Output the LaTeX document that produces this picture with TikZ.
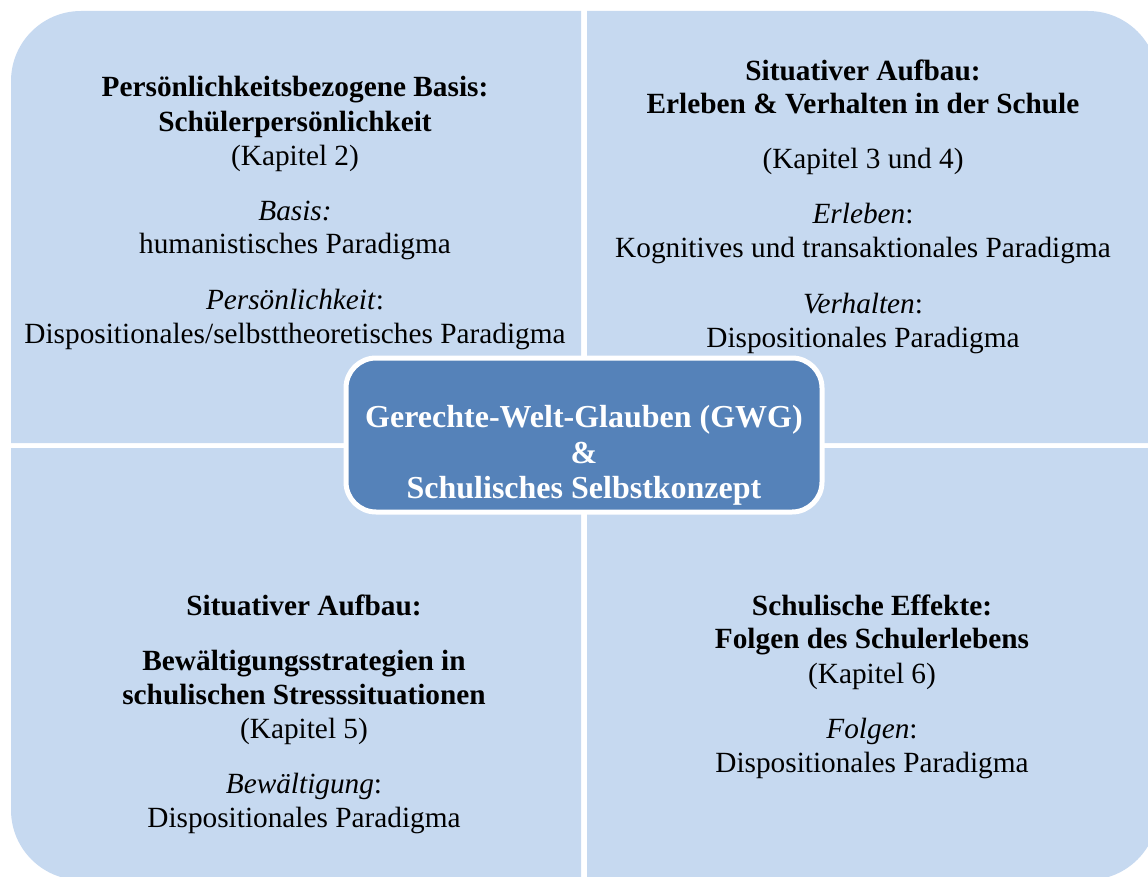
\documentclass[tikz,border=0pt]{standalone}
\usepackage{fontspec}
\setmainfont{Liberation Serif}
\definecolor{quad}{RGB}{198,217,240}
\definecolor{core}{RGB}{85,130,185}
\tikzset{
  quadfill/.style={fill=quad, draw=none},
  txt/.style={anchor=base, inner sep=0pt, font=\fontsize{29.3}{34}\selectfont},
  btxt/.style={anchor=base, inner sep=0pt, font=\fontsize{29.3}{34}\selectfont\bfseries},
  ctxt/.style={anchor=base, inner sep=0pt, text=white, font=\fontsize{32}{36}\selectfont\bfseries},
  corebox/.style={draw=white, line width=5pt, fill=core, rounded corners=30pt,
    minimum width=476pt, minimum height=154pt, inner sep=0pt},
}
\begin{document}
\begin{tikzpicture}[x=1pt,y=-1pt]
\useasboundingbox (0,0) rectangle (1148,877);
\clip (0,0) rectangle (1148,877);
% quadrants
\path[quadfill] (11,443) -- (11,81) .. controls (11,42.34) and (42.34,11) .. (81,11) -- (581,11) -- (581,443) -- cycle;
\path[quadfill] (587,443) -- (587,11) -- (1088,11) .. controls (1126.66,11) and (1158,42.34) .. (1158,81) -- (1158,443) -- cycle;
\path[quadfill] (11,448) -- (581,448) -- (581,880) -- (81,880) .. controls (42.34,880) and (11,848.66) .. (11,810) -- cycle;
\path[quadfill] (587,448) -- (1158,448) -- (1158,810) .. controls (1158,848.66) and (1126.66,880) .. (1088,880) -- (587,880) -- cycle;
% top left
\node[btxt] (tl1) at (295,97) {Persönlichkeitsbezogene Basis:};
\node[btxt] (tl2) at (295,132) {Schülerpersönlichkeit};
\node[txt] (tl3) at (295,166) {(Kapitel 2)};
\node[txt] (tl4) at (295,221) {\textit{Basis:}};
\node[txt] (tl5) at (295,254) {humanistisches Paradigma};
\node[txt] (tl6) at (295,309) {\textit{Persönlichkeit}:};
\node[txt] (tl7) at (295,343) {Dispositionales/selbsttheoretisches Paradigma};
% top right
\node[btxt] (tr1) at (863,81) {Situativer Aufbau:};
\node[btxt] (tr2) at (863,114) {Erleben \& Verhalten in der Schule};
\node[txt] (tr3) at (863,169) {(Kapitel 3 und 4)};
\node[txt] (tr4) at (863,224) {\textit{Erleben}:};
\node[txt] (tr5) at (863,258) {Kognitives und transaktionales Paradigma};
\node[txt] (tr6) at (863,313) {\textit{Verhalten}:};
\node[txt] (tr7) at (863,347) {Dispositionales Paradigma};
% bottom left
\node[btxt] (bl1) at (304,615) {Situativer Aufbau:};
\node[btxt] (bl2) at (304,670) {Bewältigungsstrategien in};
\node[btxt] (bl3) at (304,704) {schulischen Stresssituationen};
\node[txt] (bl4) at (304,738) {(Kapitel 5)};
\node[txt] (bl5) at (304,793) {\textit{Bewältigung}:};
\node[txt] (bl6) at (304,827) {Dispositionales Paradigma};
% bottom right
\node[btxt] (br1) at (872,615) {Schulische Effekte:};
\node[btxt] (br2) at (872,648) {Folgen des Schulerlebens};
\node[txt] (br3) at (872,683) {(Kapitel 6)};
\node[txt] (br4) at (872,738) {\textit{Folgen}:};
\node[txt] (br5) at (872,772) {Dispositionales Paradigma};
% centre
\node[corebox] (core) at (584,435) {};
\node[ctxt] (c1) at (584,427) {Gerechte-Welt-Glauben (GWG)};
\node[ctxt] (c2) at (584,463) {\&};
\node[ctxt] (c3) at (584,498) {Schulisches Selbstkonzept};
\end{tikzpicture}
\end{document}
